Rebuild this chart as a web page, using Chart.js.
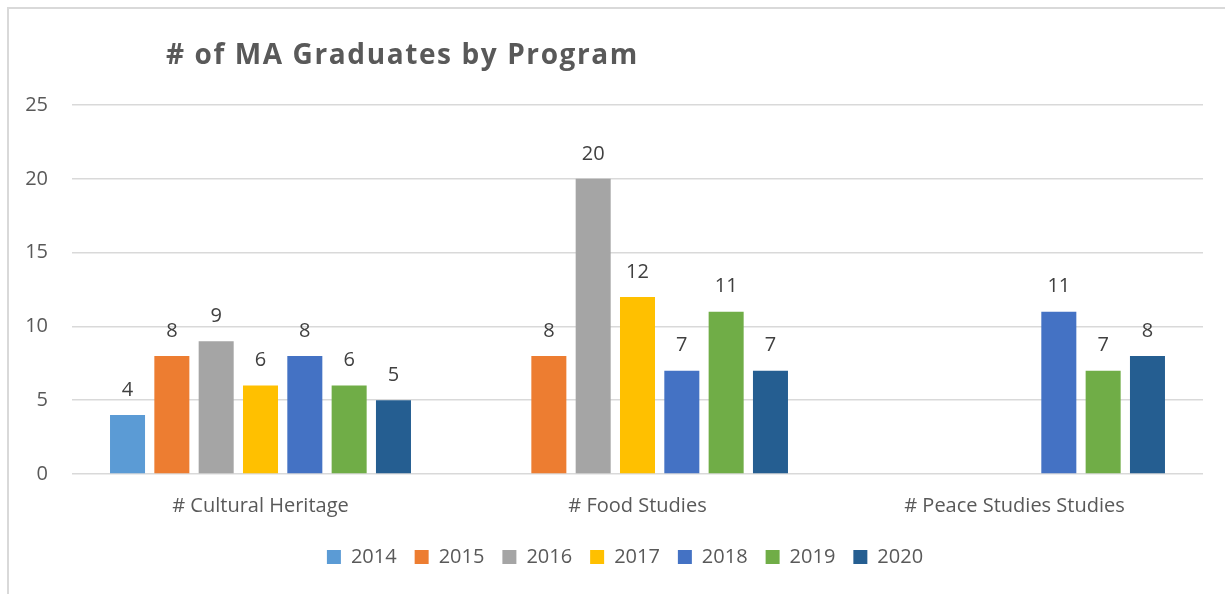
<!DOCTYPE html>
<html>
<head>
<title># of MA Graduates by Program</title>
<script src="https://cdn.jsdelivr.net/npm/chart.js"></script>
<style>
body {
  margin: 0;
  padding: 0;
  background-color: #fff;
  width: 1225px;
  height: 594px;
  overflow: hidden;
}
#box {
  position: absolute;
  left: 7px;
  top: 7px;
  width: 1218px;
  height: 587px;
  border-top: 2px solid #d9d9d9;
  border-left: 2px solid #d9d9d9;
  box-sizing: border-box;
}
</style>
</head>
<body>
<div id="box"><canvas id="chart"></canvas></div>

<script>
const chartTitle = '# of MA Graduates by Program';
const programs = ['# Cultural Heritage', '# Food Studies', '# Peace Studies Studies'];
const years = ['2014', '2015', '2016', '2017', '2018', '2019', '2020'];
const grads2014 = [4, null, null];
const grads2015 = [8, 8, null];
const grads2016 = [9, 20, null];
const grads2017 = [6, 12, null];
const grads2018 = [8, 7, 11];
const grads2019 = [6, 11, 7];
const grads2020 = [5, 7, 8];
const yTicks = [0, 5, 10, 15, 20, 25];

const colors = ['#5B9BD5', '#ED7D31', '#A5A5A5', '#FFC000', '#4472C4', '#70AD47', '#255E91'];
const allSeries = [grads2014, grads2015, grads2016, grads2017, grads2018, grads2019, grads2020];

const FONT = '"Open Sans"';
const TEXT = '#595959';

// value labels above each bar
const barLabels = {
  id: 'barLabels',
  afterDatasetsDraw(chart) {
    const ctx = chart.ctx;
    ctx.save();
    ctx.font = '20px ' + FONT;
    ctx.fillStyle = '#404040';
    ctx.textAlign = 'center';
    ctx.textBaseline = 'middle';
    chart.data.datasets.forEach((ds, i) => {
      chart.getDatasetMeta(i).data.forEach((bar, j) => {
        if (ds.data[j] == null) return;
        ctx.fillText(ds.data[j], bar.x, bar.y - 25);
      });
    });
    ctx.restore();
  }
};

// title sits left of center like the office chart
const leftTitle = {
  id: 'leftTitle',
  afterDraw(chart) {
    const ctx = chart.ctx;
    ctx.save();
    ctx.font = 'bold 28px ' + FONT;
    ctx.letterSpacing = '1.6px';
    ctx.fillStyle = TEXT;
    ctx.textAlign = 'left';
    ctx.textBaseline = 'middle';
    ctx.fillText(chartTitle, 157, 47);
    ctx.restore();
  }
};

// legend sits a bit right of the canvas center in the original
const legendNudge = {
  id: 'legendNudge',
  afterLayout(chart) {
    chart.legend.left += 19;
    chart.legend.right += 19;
  }
};

new Chart(document.getElementById('chart'), {
  type: 'bar',
  data: {
    labels: programs,
    datasets: years.map((y, i) => ({
      label: y,
      data: allSeries[i],
      backgroundColor: colors[i],
      borderWidth: 0,
      categoryPercentage: 0.823,
      barPercentage: 0.79
    }))
  },
  options: {
    responsive: true,
    maintainAspectRatio: false,
    animation: false,
    layout: {
      padding: { top: 96, right: 22, bottom: 17, left: 0 }
    },
    plugins: {
      title: { display: false },
      tooltip: { enabled: false },
      legend: {
        position: 'bottom',
        maxHeight: 48,
        labels: {
          boxWidth: 14,
          boxHeight: 14,
          padding: 18,
          color: TEXT,
          font: { family: FONT, size: 20 }
        }
      }
    },
    scales: {
      x: {
        grid: { display: false },
        border: { display: false },
        ticks: {
          color: TEXT,
          padding: 12,
          font: { family: FONT, size: 20 }
        },
        afterFit(scale) { scale.height = 55; }
      },
      y: {
        min: 0,
        max: 25,
        afterBuildTicks(scale) { scale.ticks = yTicks.map(v => ({ value: v })); },
        grid: { color: '#d9d9d9', lineWidth: 1.5, drawTicks: false },
        border: { display: false },
        ticks: {
          color: TEXT,
          padding: 24,
          font: { family: FONT, size: 20 }
        },
        afterFit(scale) { scale.width = 63; }
      }
    }
  },
  plugins: [barLabels, leftTitle, legendNudge]
});
</script>
</body>
</html>
